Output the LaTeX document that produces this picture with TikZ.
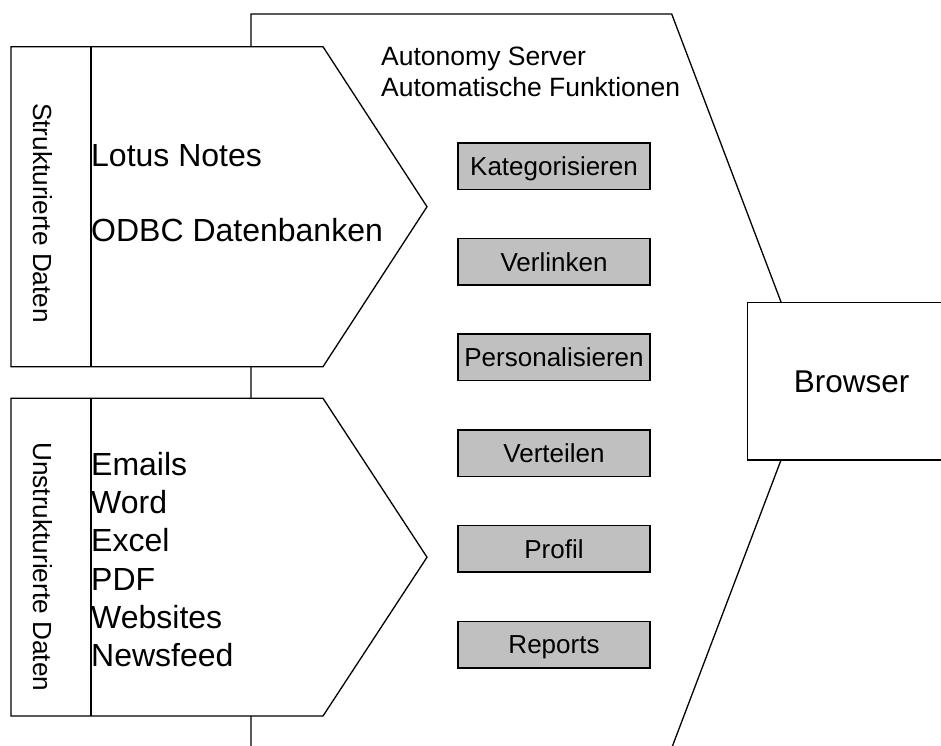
\documentclass[tikz,border=0pt]{standalone}
\usepackage{fontspec}
\setmainfont{Liberation Sans}
\definecolor{boxgray}{HTML}{C0C0C0}
\begin{document}
\begin{tikzpicture}[x=1pt,y=-1pt,line join=miter,
  outline/.style={draw=black,line width=1.3pt,fill=white},
  divider/.style={draw=black,line width=1.3pt},
  func/.style={draw=black,line width=1.5pt,fill=boxgray,minimum width=192pt,minimum height=46.5pt,inner sep=0pt,font=\fontsize{26}{30}\selectfont,text height=18.6pt,text depth=0pt},
  big/.style={font=\fontsize{32}{36}\selectfont,inner sep=0pt,anchor=base west},
  small/.style={font=\fontsize{26.5}{31}\selectfont,inner sep=0pt,anchor=base west},
  side/.style={font=\fontsize{26.2}{31}\selectfont,inner sep=0pt,anchor=base,rotate=-90}]
\useasboundingbox (0,0) rectangle (941,745);
\fill[white] (0,0) rectangle (941,745);
\clip (0,0) rectangle (941,745);

% Autonomy server shape
\draw[outline] (251,14) -- (671.7,14) -- (811,381) -- (671.7,748) -- (251,748) -- cycle;

% structured data panel
\draw[outline] (11,46.7) -- (323,46.7) -- (427,206.7) -- (323,366.7) -- (11,366.7) -- cycle;
\draw[divider] (91,46.7) -- (91,366.7);

% unstructured data panel
\draw[outline] (11,398.3) -- (323,398.3) -- (427,557.2) -- (323,716) -- (11,716) -- cycle;
\draw[divider] (91,398.3) -- (91,716);

% side labels
\node[side] (strukt) at (33,213) {Strukturierte Daten};
\node[side] (unstrukt) at (33,566.7) {Unstrukturierte Daten};

% structured items
\node[big] (lotus) at (91,166.7) {Lotus Notes};
\node[big] (odbc) at (91,241.7) {ODBC Datenbanken};

% unstructured items
\node[big] (emails) at (91,475) {Emails};
\node[big] (word) at (91,513.3) {Word};
\node[big] (excel) at (91,551.7) {Excel};
\node[big] (pdf) at (91,590) {PDF};
\node[big] (websites) at (91,628.3) {Websites};
\node[big] (newsfeed) at (91,666.7) {Newsfeed};

% server title
\node[small] (title1) at (381,65) {Autonomy Server};
\node[small] (title2) at (381,96.5) {Automatische Funktionen};

% function boxes
\node[func] (kat) at (554,166) {Kategorisieren};
\node[func] (verl) at (554,261.7) {Verlinken};
\node[func] (pers) at (554,357.4) {Personalisieren};
\node[func] (vert) at (554,453.1) {Verteilen};
\node[func] (prof) at (554,548.8) {Profil};
\node[func] (rep) at (554,644.5) {Reports};

% browser
\node[outline,minimum width=208.7pt,minimum height=157.3pt,inner sep=0pt,font=\fontsize{31.5}{36}\selectfont,text height=22.5pt,text depth=0pt] (browser) at (851.7,381.35) {Browser};
\end{tikzpicture}
\end{document}
